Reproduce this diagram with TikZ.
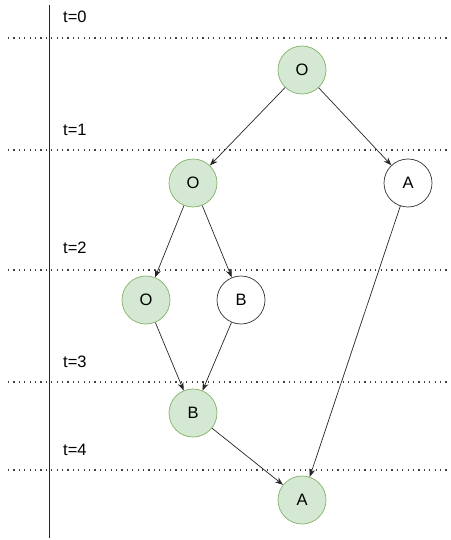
\documentclass[tikz,border=0pt]{standalone}
\usepackage{fontspec}
\setmainfont{Liberation Sans}
\usetikzlibrary{arrows.meta}
\definecolor{gfill}{HTML}{D5E8D4}
\definecolor{gdraw}{HTML}{82B366}
\begin{document}
\begin{tikzpicture}[x=1pt,y=-1pt,
  state/.style={circle,minimum size=48pt,inner sep=0pt,draw=black!80,line width=0.7pt,font=\fontsize{16.5}{19}\selectfont},
  visited/.style={state,fill=gfill,draw=gdraw},
  edge/.style={draw=black!85,line width=0.7pt,-{Stealth[length=8pt,width=6pt]}},
  tline/.style={line width=1.2pt,black!75,dash pattern=on 1.2pt off 4.2pt},
  tlabel/.style={anchor=west,inner sep=0pt,font=\fontsize{16.5}{19}\selectfont}]
\useasboundingbox (0,0) rectangle (450,540);
\draw[black!85,line width=0.8pt] (49,5) -- (49,538);
\foreach \y/\t/\ly in {38/0/17,150/1/130,270/2/248,382/3/362,470/4/450}{
  \draw[tline] (8,\y) -- (450,\y);
  \node[tlabel] at (63,\ly) {t=\t};
}
\node[visited] (o0) at (302,70) {O};
\node[visited] (o1) at (193,183) {O};
\node[state] (a1) at (408,183) {A};
\node[visited] (o2) at (146,300) {O};
\node[state] (b2) at (241,300) {B};
\node[visited] (b3) at (193,413) {B};
\node[visited] (a4) at (302,500) {A};
\draw[edge] (o0) -- (o1);
\draw[edge] (o0) -- (a1);
\draw[edge] (o1) -- (o2);
\draw[edge] (o1) -- (b2);
\draw[edge] (o2) -- (b3);
\draw[edge] (b2) -- (b3);
\draw[edge] (b3) -- (a4);
\draw[edge] (a1) -- (a4);
\end{tikzpicture}
\end{document}
